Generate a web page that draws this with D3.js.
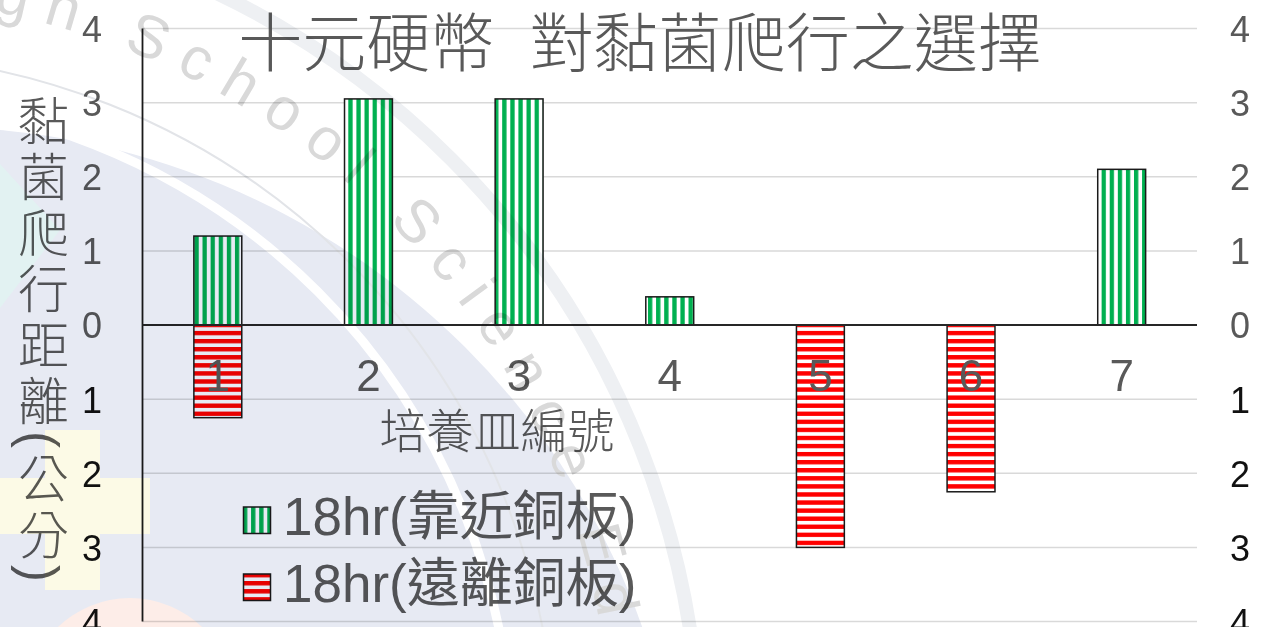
<!DOCTYPE html>
<html>
<head>
<meta charset="utf-8">
<script src="https://cdn.jsdelivr.net/npm/d3@7"></script>
<style>
  html, body { margin: 0; padding: 0; background: #ffffff; }
  svg { display: block; }
  .wm { mix-blend-mode: multiply; }
</style>
</head>
<body>
<svg id="chart" width="1281" height="627"></svg>
<script>
// ---- data ----
const categories = ["1", "2", "3", "4", "5", "6", "7"];
const nearValues = [1.2, 3.05, 3.05, 0.38, null, null, 2.1];    // 18hr(靠近銅板)
const farValues  = [-1.25, null, null, null, -3.0, -2.25, null]; // 18hr(遠離銅板)
const tickValues = [-4, -3, -2, -1, 0, 1, 2, 3, 4];
const seriesNames = ["18hr(靠近銅板)", "18hr(遠離銅板)"];
const titleText = "十元硬幣  對黏菌爬行之選擇";
const xTitle = "培養皿編號";
const yTitle = "黏菌爬行距離(公分)";

// ---- layout ----
const W = 1281, H = 627;
const plot = { left: 142.5, right: 1197, top: 28.5, bottom: 621.5 };
const FONT = "'Liberation Sans', 'Noto Sans CJK TC', sans-serif";
const GREEN = "#00b050", RED = "#ff0000", TEXT = "#595959";

const svg = d3.select("#chart");

const x = d3.scaleBand().domain(categories).range([plot.left, plot.right]).paddingInner(0).paddingOuter(0);
const y = d3.scaleLinear().domain([-4, 4]).range([plot.bottom, plot.top]);
const barW = x.bandwidth() * 0.318;

// stripe fills
const defs = svg.append("defs");
const pv = defs.append("pattern").attr("id", "vstripe").attr("patternUnits", "userSpaceOnUse")
  .attr("width", 8.1).attr("height", 8);
pv.append("rect").attr("width", 8.1).attr("height", 8).attr("fill", "#ffffff");
pv.append("rect").attr("x", 0).attr("width", 4.3).attr("height", 8).attr("fill", GREEN);
const ph = defs.append("pattern").attr("id", "hstripe").attr("patternUnits", "userSpaceOnUse")
  .attr("width", 8).attr("height", 8.07);
ph.append("rect").attr("width", 8).attr("height", 8.07).attr("fill", "#ffffff");
ph.append("rect").attr("y", 0).attr("width", 8).attr("height", 4.4).attr("fill", RED);

svg.append("rect").attr("width", W).attr("height", H).attr("fill", "#ffffff");

// gridlines
svg.append("g").selectAll("line").data(tickValues.filter(d => d !== 0)).join("line")
  .attr("x1", plot.left).attr("x2", plot.right)
  .attr("y1", d => y(d)).attr("y2", d => y(d))
  .attr("stroke", "#d9d9d9").attr("stroke-width", 1.5);

// tick labels on both sides (absolute values; negatives in black)
function styleTicks(g, cx) {
  g.select(".domain").remove();
  g.selectAll(".tick line").remove();
  g.selectAll(".tick text")
    .attr("x", cx).attr("dy", null).attr("y", 36 * 0.358)
    .attr("text-anchor", "middle")
    .attr("font-family", FONT).attr("font-size", 36)
    .attr("fill", d => d < 0 ? "#111111" : TEXT);
}
const fmt = d => String(Math.abs(d));
svg.append("g")
  .call(d3.axisLeft(y).tickValues(tickValues).tickFormat(fmt))
  .call(g => styleTicks(g, 92));
svg.append("g")
  .call(d3.axisRight(y).tickValues(tickValues).tickFormat(fmt))
  .call(g => styleTicks(g, 1240));

// bars
const near = categories.map((c, i) => ({ c, v: nearValues[i] })).filter(d => d.v != null);
const far = categories.map((c, i) => ({ c, v: farValues[i] })).filter(d => d.v != null);
function drawBars(data, fill) {
  svg.append("g").selectAll("rect").data(data).join("rect")
    .attr("x", d => x(d.c) + (x.bandwidth() - barW) / 2)
    .attr("width", barW)
    .attr("y", d => y(Math.max(0, d.v)))
    .attr("height", d => Math.abs(y(d.v) - y(0)))
    .attr("fill", fill)
    .attr("stroke", "#1a1a1a").attr("stroke-width", 1.5);
}
drawBars(near, "url(#vstripe)");
drawBars(far, "url(#hstripe)");

// axis lines: vertical at left, horizontal at zero
svg.append("line").attr("x1", plot.left).attr("x2", plot.left)
  .attr("y1", y(4)).attr("y2", y(-4)).attr("stroke", "#1a1a1a").attr("stroke-width", 1.8);
svg.append("line").attr("x1", plot.left).attr("x2", plot.right)
  .attr("y1", y(0)).attr("y2", y(0)).attr("stroke", "#262626").attr("stroke-width", 1.8);

// category labels
const catY = 375;
svg.append("g").selectAll("text").data(categories).join("text")
  .attr("x", d => x(d) + x.bandwidth() / 2)
  .attr("y", catY + 44 * 0.358)
  .attr("text-anchor", "middle")
  .attr("font-family", FONT).attr("font-size", 44).attr("fill", TEXT)
  .text(d => d);

// axis titles
svg.append("text").attr("x", 497).attr("y", 448)
  .attr("text-anchor", "middle").attr("font-family", FONT)
  .attr("font-size", 47).attr("fill", TEXT).attr("font-weight", 300)
  .text(xTitle);

svg.append("text").attr("x", 39).attr("y", 95)
  .attr("font-family", FONT).attr("font-size", 51).attr("fill", TEXT).attr("font-weight", 300)
  .style("writing-mode", "vertical-rl").style("letter-spacing", "5px")
  .text(yTitle);

// title
svg.append("text").attr("x", 640).attr("y", 66)
  .attr("text-anchor", "middle").attr("font-family", FONT)
  .attr("font-size", 64).attr("fill", TEXT).attr("font-weight", 300)
  .style("white-space", "pre")
  .text(titleText);

// legend
const legend = svg.append("g");
const legRows = [{ name: seriesNames[0], fill: "url(#vstripe)", base: 535 },
                 { name: seriesNames[1], fill: "url(#hstripe)", base: 602 }];
legend.selectAll("rect").data(legRows).join("rect")
  .attr("x", 243.5).attr("y", d => d.base - 28)
  .attr("width", 27).attr("height", 26.5)
  .attr("fill", d => d.fill).attr("stroke", "#1a1a1a").attr("stroke-width", 1.5);
legend.selectAll("text").data(legRows).join("text")
  .attr("x", 283).attr("y", d => d.base)
  .attr("font-family", FONT).attr("font-size", 53).attr("fill", TEXT)
  .text(d => d.name);

// school emblem watermark, multiplied over the chart
const wm = svg.append("g").attr("class", "wm");
wm.append("circle").attr("cx", -67).attr("cy", 880).attr("r", 753).attr("fill", "#e7eaf3");
wm.append("polygon").attr("points", "-40,120 60,230 -40,360").attr("fill", "#e2f2f2");
wm.append("rect").attr("x", 0).attr("y", 478).attr("width", 150).attr("height", 56).attr("fill", "#fcfae6");
wm.append("rect").attr("x", 45).attr("y", 430).attr("width", 55).attr("height", 160).attr("fill", "#fcfae6");
wm.append("circle").attr("cx", 130).attr("cy", 702).attr("r", 104).attr("fill", "#fdede8");
wm.append("circle").attr("cx", -150).attr("cy", 760).attr("r", 662)
  .attr("fill", "none").attr("stroke", "#ffffff").attr("stroke-width", 9);
wm.append("circle").attr("cx", -150).attr("cy", 760).attr("r", 705)
  .attr("fill", "none").attr("stroke", "#e2e4e8").attr("stroke-width", 2);
wm.append("circle").attr("cx", -150).attr("cy", 760).attr("r", 850)
  .attr("fill", "none").attr("stroke", "#eef0f3").attr("stroke-width", 14);

const R = 762, cx0 = -150, cy0 = 760;
const a0 = -86 * Math.PI / 180, a1 = 25 * Math.PI / 180;
defs.append("path").attr("id", "ring")
  .attr("d", `M${cx0 + R * Math.cos(a0)},${cy0 + R * Math.sin(a0)} A${R},${R} 0 0 1 ${cx0 + R * Math.cos(a1)},${cy0 + R * Math.sin(a1)}`);
wm.append("text").attr("font-family", "'Liberation Sans', sans-serif").attr("font-size", 60)
  .attr("fill", "#d9d9d9").style("letter-spacing", "17px")
  .append("textPath").attr("href", "#ring").text("High School Science Education");
</script>
</body>
</html>
